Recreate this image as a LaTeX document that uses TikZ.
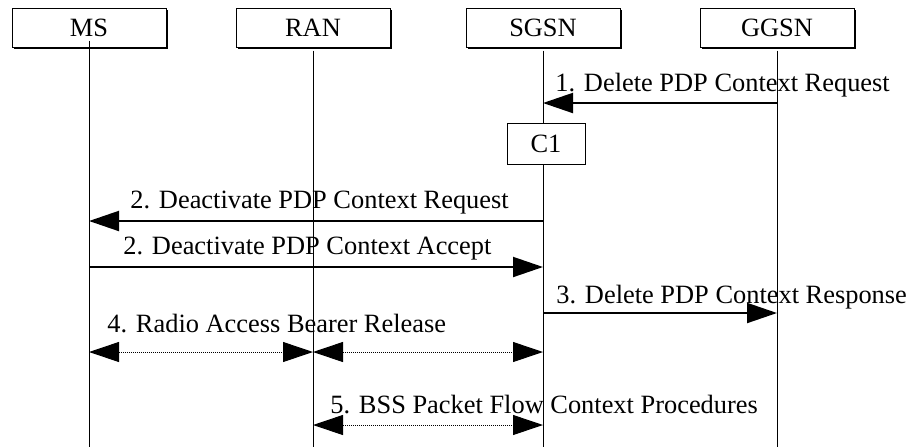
\documentclass[tikz,border=0pt]{standalone}
\usepackage{fontspec}
\setmainfont{Liberation Serif}
\usetikzlibrary{arrows.meta,positioning,shadows}

\begin{document}
\begin{tikzpicture}[
    x=0.5pt, y=-0.5pt,
    font=\fontsize{13.2}{15}\selectfont,
    entity/.style={rectangle, draw, fill=white, line width=0.5pt, minimum width=77pt, minimum height=19.5pt, inner sep=0pt,
        drop shadow={shadow xshift=0.8pt, shadow yshift=-0.8pt, fill=black, opacity=1}},
    proc/.style={rectangle, draw, fill=white, line width=0.5pt, minimum width=39pt, minimum height=20.5pt, inner sep=0pt},
    lifeline/.style={line width=0.5pt},
    msg/.style={-{Triangle[length=15pt,width=10pt]}, line width=1pt},
    bearer/.style={{Triangle[length=15pt,width=10pt]}-{Triangle[length=15pt,width=10pt]}, line width=0.5pt, dash pattern=on 0.5pt off 0.5pt},
    lbl/.style={anchor=base west, inner sep=0pt}
]
    \useasboundingbox (0,0) rectangle (907,447);

    % Entities
    \node[entity] (ms) at (89,27.5) {MS};
    \node[entity] (ran) at (313,27.5) {RAN};
    \node[entity] (sgsn) at (543,27.5) {SGSN};
    \node[entity] (ggsn) at (777,27.5) {GGSN};

    % Lifelines
    \coordinate (msEnd) at (89,447);
    \coordinate (ranEnd) at (313,447);
    \coordinate (sgsnEnd) at (543,447);
    \coordinate (ggsnEnd) at (777,447);
    \draw[lifeline] ([yshift=3.5pt]ms.south) -- (msEnd);
    \draw[lifeline] ([yshift=-1.5pt]ran.south) -- (ranEnd);
    \draw[lifeline] ([yshift=-1.5pt]sgsn.south) -- (sgsnEnd);
    \draw[lifeline] ([yshift=-1.5pt]ggsn.south) -- (ggsnEnd);

    \node[proc, below=37.5pt of sgsn, xshift=1.5pt] (c1) {C1};

    % Rows
    \coordinate (r1) at (0,103);
    \coordinate (r2) at (0,221);
    \coordinate (r3) at (0,267);
    \coordinate (r4) at (0,313);
    \coordinate (r5) at (0,352);
    \coordinate (r6) at (0,425);

    % Messages
    \draw[msg] (ggsn |- r1) -- (sgsn |- r1);
    \node[lbl] (l1) at (555,91) {1. Delete PDP Context Request};

    \draw[msg] (sgsn |- r2) -- (ms |- r2);
    \node[lbl] (l2) at (130,208) {2. Deactivate PDP Context Request};

    \draw[msg] (ms |- r3) -- (sgsn |- r3);
    \node[lbl] (l3) at (123,254) {2. Deactivate PDP Context Accept};

    \draw[msg] (sgsn |- r4) -- (ggsn |- r4);
    \node[lbl] (l4) at (556,303) {3. Delete PDP Context Response};

    \draw[bearer] (ms |- r5) -- (ran |- r5);
    \draw[bearer] (ran |- r5) -- (sgsn |- r5);
    \node[lbl] (l5) at (107,332) {4. Radio Access Bearer Release};

    \draw[bearer] (ran |- r6) -- (sgsn |- r6);
    \node[lbl] (l6) at (330,413) {5. BSS Packet Flow Context Procedures};
\end{tikzpicture}
\end{document}
